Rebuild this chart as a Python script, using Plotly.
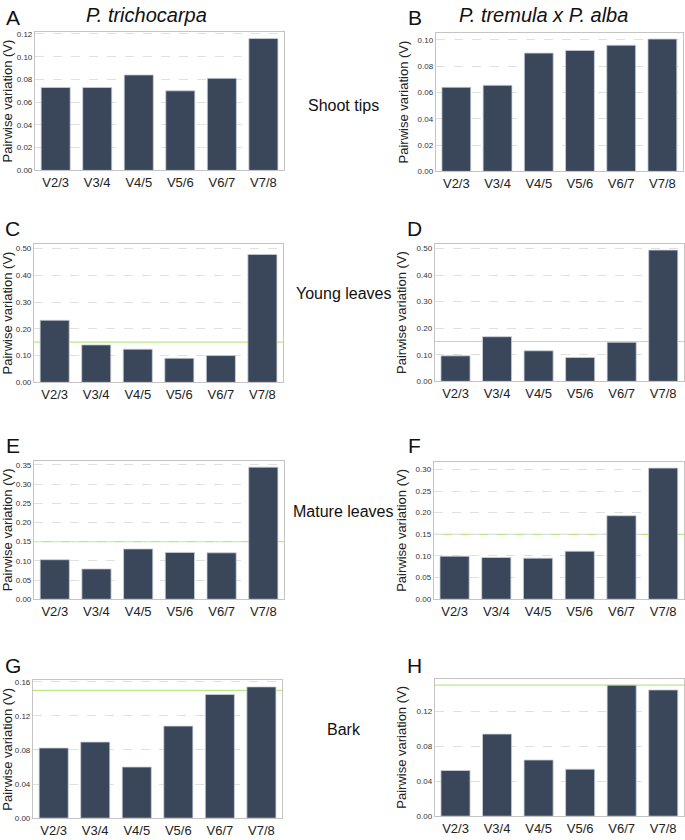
import plotly.graph_objects as go

categories = ["V2/3", "V3/4", "V4/5", "V5/6", "V6/7", "V7/8"]

shoot_tips_tri = [0.073, 0.073, 0.084, 0.070, 0.081, 0.116]
shoot_tips_alba = [0.064, 0.0655, 0.090, 0.092, 0.096, 0.1007]
young_leaves_tri = [0.232, 0.140, 0.124, 0.090, 0.100, 0.478]
young_leaves_alba = [0.096, 0.168, 0.115, 0.090, 0.147, 0.494]
mature_leaves_tri = [0.103, 0.079, 0.131, 0.122, 0.121, 0.344]
mature_leaves_alba = [0.0995, 0.0965, 0.095, 0.111, 0.193, 0.303]
bark_tri = [0.0823, 0.0893, 0.060, 0.108, 0.145, 0.154]
bark_alba = [0.0523, 0.094, 0.0643, 0.0538, 0.150, 0.1445]

threshold = 0.15

panel_letters = ["A", "B", "C", "D", "E", "F", "G", "H"]
species_titles = ["P. trichocarpa", "P. tremula x P. alba"]
tissue_labels = ["Shoot tips", "Young leaves", "Mature leaves", "Bark"]
y_title = "Pairwise variation (V)"

series = [shoot_tips_tri, shoot_tips_alba, young_leaves_tri, young_leaves_alba,
          mature_leaves_tri, mature_leaves_alba, bark_tri, bark_alba]
y_max = [0.122, 0.1055, 0.518, 0.518, 0.361, 0.318, 0.1615, 0.1576]
y_dtick = [0.02, 0.02, 0.1, 0.1, 0.05, 0.05, 0.04, 0.04]
show_threshold = [False, False, True, True, True, True, True, True]

W, H = 685, 840
# plot areas in pixels: (x0, x1, y0_top, y1_bottom)
boxes = [
    (33, 283, 29, 169), (435, 683, 30, 170),
    (32, 282, 243, 383), (434, 684, 243, 382),
    (32, 283, 462, 602), (433, 684, 463, 602),
    (31, 281, 684, 823), (434, 684, 682, 821),
]

FONT = "Arial, Liberation Sans, sans-serif"
BAR = "#3a4659"

fig = go.Figure()
for i, vals in enumerate(series):
    n = i + 1
    xa = "x" if n == 1 else f"x{n}"
    ya = "y" if n == 1 else f"y{n}"
    fig.add_trace(go.Bar(
        x=categories, y=vals, xaxis=xa, yaxis=ya,
        marker=dict(color=BAR, line=dict(color="#c9d0da", width=0.8)),
        showlegend=False, hoverinfo="x+y",
    ))
    x0, x1, t, b = boxes[i]
    xk = "xaxis" if n == 1 else f"xaxis{n}"
    yk = "yaxis" if n == 1 else f"yaxis{n}"
    fig.layout[xk] = dict(
        domain=[x0 / W, x1 / W], anchor=ya,
        showline=True, linecolor="#c4c4c4", linewidth=1, mirror=True,
        showgrid=False, ticks="", tickfont=dict(size=13, color="#222", family=FONT),
        fixedrange=True,
    )
    fig.layout[yk] = dict(
        domain=[1 - b / H, 1 - t / H], anchor=xa,
        range=[0, y_max[i]], dtick=y_dtick[i], tick0=0, tickformat=".2f",
        showline=True, linecolor="#c4c4c4", linewidth=1, mirror=True,
        showgrid=True, gridcolor="#e0e0e0", griddash="dash", gridwidth=1,
        zeroline=False, ticks="", tickfont=dict(size=8, color="#333", family=FONT),
        title=dict(text=y_title, font=dict(size=13, color="#222", family=FONT), standoff=6),
        fixedrange=True,
    )
    if show_threshold[i]:
        fig.add_shape(type="line", xref=f"{xa} domain", yref=ya,
                      x0=0, x1=1, y0=threshold, y1=threshold, layer="below",
                      line=dict(color="#b8e986", width=1.2))
    # panel letter
    lx = 11 if i % 2 == 0 else 414
    ly = [15, 15, 228, 228, 447, 447, 669, 669][i]
    fig.add_annotation(text=panel_letters[i], x=lx / W, y=1 - ly / H, xref="paper", yref="paper",
                       showarrow=False, font=dict(size=21, color="#111", family=FONT),
                       xanchor="center", yanchor="middle")

for j, (txt, cx) in enumerate(zip(species_titles, [145, 543])):
    fig.add_annotation(text=f"<i>{txt}</i>", x=cx / W, y=1 - 12 / H, xref="paper", yref="paper",
                       showarrow=False, font=dict(size=20, color="#111", family=FONT),
                       xanchor="center", yanchor="middle")

for txt, cy in zip(tissue_labels, [103, 293, 513, 733]):
    fig.add_annotation(text=txt, x=343 / W, y=1 - cy / H, xref="paper", yref="paper",
                       showarrow=False, font=dict(size=16, color="#111", family=FONT),
                       xanchor="center", yanchor="middle")

fig.update_layout(
    width=W, height=H, margin=dict(l=0, r=0, t=0, b=0),
    paper_bgcolor="white", plot_bgcolor="white", bargap=0.3,
    font=dict(family=FONT),
)

fig.write_html(
    "out.html",
    config={"displayModeBar": False},
    post_script="document.body.style.margin='0';document.body.style.padding='0';"
                "document.documentElement.style.overflow='hidden';document.body.style.overflow='hidden';",
)
